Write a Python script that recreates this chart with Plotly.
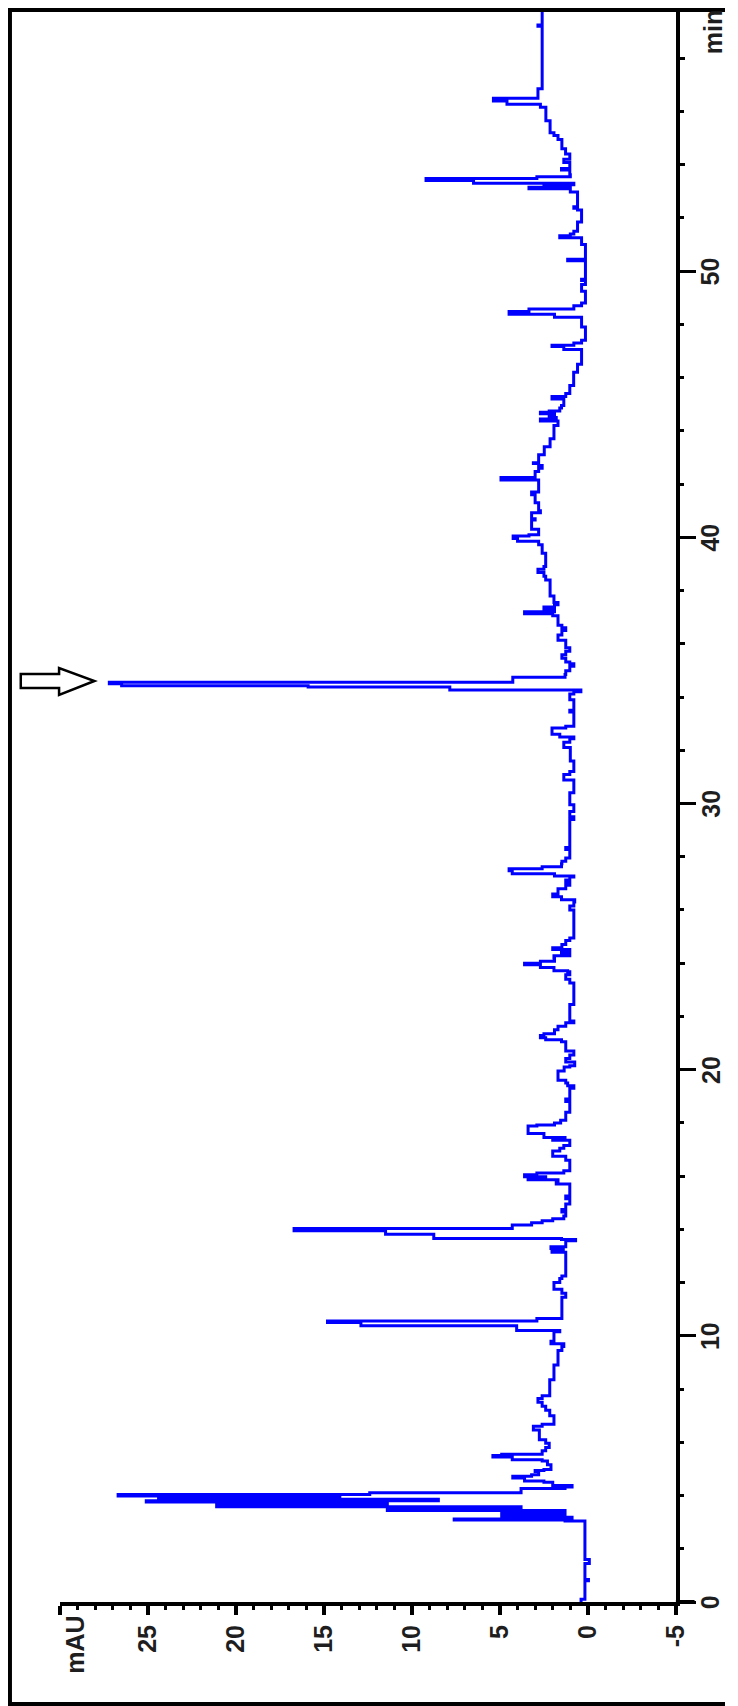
import plotly.graph_objects as go

# ---- data (time in min, absorbance in mAU) ----
time_min = [
    0.0, 0.1, 0.75, 0.8, 0.85, 1.4, 1.45, 1.6, 3.0, 3.04, 3.08, 3.12, 3.18, 3.22, 3.3, 3.36,
    3.44, 3.5, 3.58, 3.64, 3.7, 3.76, 3.8, 3.86, 3.9, 3.95, 3.98, 4.04, 4.1, 4.2, 4.26, 4.32,
    4.38, 4.5, 4.55, 4.66, 4.72, 4.78, 4.9, 4.94, 4.98, 5.16, 5.3, 5.34, 5.45, 5.5, 5.55, 5.68,
    5.8, 5.96, 6.1, 6.4, 6.46, 6.6, 6.68, 6.8, 7.0, 7.2, 7.35, 7.5, 7.65, 7.75, 8.3, 8.35,
    8.85, 8.9, 9.35, 9.45, 9.6, 9.7, 9.8, 10.1, 10.15, 10.2, 10.33, 10.38, 10.46, 10.5, 10.56, 10.65,
    11.35, 11.45, 11.6, 11.75, 11.9, 12.0, 12.15, 12.25, 13.1, 13.14, 13.22, 13.28, 13.35, 13.5, 13.57, 13.62,
    13.66, 13.78, 13.82, 13.9, 13.95, 14.0, 14.03, 14.12, 14.16, 14.25, 14.32, 14.4, 14.5, 14.65, 14.75, 14.95,
    15.15, 15.25, 15.6, 15.7, 15.8, 15.86, 15.92, 15.98, 16.05, 16.12, 16.2, 16.5, 16.6, 16.75, 16.85, 16.94,
    17.05, 17.15, 17.3, 17.35, 17.4, 17.45, 17.6, 17.8, 17.88, 17.92, 18.0, 18.1, 18.35, 18.4, 18.75, 18.8,
    18.9, 19.25, 19.3, 19.4, 19.5, 19.6, 19.85, 19.95, 20.1, 20.15, 20.29, 20.42, 20.55, 20.7, 20.96, 21.05,
    21.12, 21.2, 21.28, 21.35, 21.5, 21.63, 21.76, 21.83, 22.4, 22.45, 23.1, 23.26, 23.4, 23.57, 23.68, 23.72,
    23.84, 23.94, 24.0, 24.07, 24.2, 24.28, 24.38, 24.45, 24.51, 24.58, 24.7, 24.85, 24.95, 25.9, 26.0, 26.15,
    26.3, 26.38, 26.5, 26.6, 26.8, 26.93, 27.02, 27.13, 27.24, 27.28, 27.36, 27.47, 27.55, 27.62, 27.74, 27.83,
    27.95, 28.2, 28.27, 28.35, 29.35, 29.4, 29.5, 29.65, 29.7, 29.9, 29.95, 30.35, 30.4, 30.8, 30.88, 30.98,
    31.09, 31.2, 31.5, 31.6, 32.0, 32.1, 32.22, 32.3, 32.43, 32.5, 32.6, 32.78, 32.84, 32.9, 33.4, 33.44,
    33.5, 33.85, 33.9, 34.05, 34.11, 34.2, 34.26, 34.34, 34.38, 34.42, 34.5, 34.56, 34.7, 34.74, 34.85, 34.99,
    35.16, 35.25, 35.32, 35.46, 35.59, 35.72, 35.85, 36.0, 36.13, 36.33, 36.5, 36.6, 36.7, 37.0, 37.05, 37.13,
    37.2, 37.3, 37.38, 37.47, 37.55, 37.75, 37.8, 38.3, 38.4, 38.54, 38.68, 38.8, 38.9, 39.35, 39.4, 39.65,
    39.72, 39.85, 39.96, 40.05, 40.1, 40.25, 40.3, 40.6, 40.65, 40.7, 40.85, 40.92, 41.0, 41.2, 41.3, 41.55,
    41.6, 41.7, 42.05, 42.15, 42.25, 42.4, 42.47, 42.6, 42.7, 42.77, 42.8, 43.05, 43.1, 43.35, 43.4, 43.65,
    43.7, 44.15, 44.2, 44.3, 44.37, 44.45, 44.5, 44.58, 44.64, 44.7, 44.75, 44.86, 44.95, 45.1, 45.2, 45.29,
    45.4, 45.65, 45.7, 46.15, 46.2, 46.45, 46.5, 46.97, 47.06, 47.17, 47.22, 47.3, 47.4, 47.85, 47.9, 48.2,
    48.27, 48.38, 48.48, 48.58, 48.7, 48.8, 49.2, 49.25, 49.45, 49.5, 49.6, 49.65, 49.7, 50.3, 50.39, 50.45,
    50.95, 51.0, 51.15, 51.26, 51.33, 51.4, 51.5, 51.75, 51.85, 52.2, 52.3, 52.36, 52.42, 52.9, 52.97, 53.08,
    53.1, 53.15, 53.2, 53.25, 53.3, 53.41, 53.48, 53.55, 53.62, 53.75, 53.8, 53.86, 54.0, 54.08, 54.2, 54.28,
    54.4, 54.55, 54.6, 54.85, 54.95, 55.1, 55.2, 55.6, 55.65, 56.1, 56.16, 56.27, 56.39, 56.5, 56.8, 56.85,
    59.15, 59.2, 59.25, 60.0,
]
signal_mau = [
    0.39, 0.17, 0.17, -0.03, 0.17, 0.17, -0.08, 0.17, 0.17, 1.3, 7.6, 0.9, 4.9, 1.3, 4.9, 1.3,
    11.4, 3.8, 21.1, 11.4, 21.1, 25.1, 8.5, 14.1, 24.4, 14.1, 26.7, 12.4, 3.8, 3.8, 1.3, 0.9,
    2.0, 2.5, 3.6, 4.27, 3.2, 2.8, 3.0, 2.5, 2.1, 2.3, 2.6, 4.3, 5.4, 4.9, 2.6, 2.4,
    2.2, 2.4, 2.76, 2.76, 3.1, 2.6, 1.93, 1.93, 2.17, 2.4, 2.6, 2.84, 2.6, 2.17, 2.17, 1.93,
    1.93, 1.7, 1.7, 1.48, 1.37, 2.1, 1.93, 1.93, 1.6, 4.05, 4.05, 12.9, 12.9, 14.8, 2.9, 1.48,
    1.48, 1.26, 1.48, 1.93, 1.93, 1.6, 1.48, 1.26, 1.26, 2.04, 1.4, 2.1, 1.26, 1.26, 0.7, 1.5,
    8.76, 8.76, 11.5, 11.5, 16.7, 16.7, 4.3, 4.3, 3.2, 2.6, 2.0, 1.37, 1.26, 1.48, 1.26, 1.03,
    1.26, 1.03, 1.03, 1.8, 1.7, 3.4, 2.4, 3.6, 2.9, 1.37, 1.03, 1.03, 1.26, 2.0, 2.0, 1.6,
    1.37, 1.03, 1.03, 2.0, 1.3, 2.5, 3.4, 3.4, 2.9, 1.9, 1.55, 1.26, 1.26, 1.03, 1.03, 1.26,
    1.03, 1.03, 0.8, 1.15, 1.26, 1.7, 1.7, 1.35, 1.03, 0.75, 1.26, 1.03, 0.8, 1.26, 1.26, 1.5,
    2.4, 2.7, 2.5, 1.9, 1.7, 1.26, 0.8, 1.03, 1.03, 0.8, 0.8, 1.03, 1.26, 1.03, 1.15, 1.93,
    2.7, 3.6, 2.7, 1.9, 1.93, 1.03, 1.5, 1.03, 2.0, 1.48, 1.26, 1.03, 0.8, 0.8, 1.03, 0.8,
    0.75, 1.5, 2.0, 1.7, 1.26, 1.03, 1.26, 1.03, 0.8, 1.9, 4.3, 4.48, 2.6, 1.5, 1.48, 1.26,
    1.03, 1.03, 1.26, 1.03, 1.03, 0.8, 1.03, 1.03, 0.8, 0.8, 1.03, 1.03, 0.8, 0.8, 1.37, 1.37,
    1.03, 0.8, 0.8, 1.0, 1.0, 1.37, 1.37, 1.03, 0.8, 1.6, 2.04, 2.04, 1.26, 0.8, 0.8, 1.03,
    0.8, 0.8, 1.03, 1.03, 0.8, 0.4, 7.85, 7.85, 15.9, 26.5, 27.2, 4.27, 4.27, 1.3, 1.26, 1.03,
    0.8, 1.03, 1.26, 1.48, 1.26, 1.03, 1.26, 1.26, 1.7, 1.48, 1.26, 1.48, 1.7, 1.7, 2.0, 3.6,
    1.9, 2.5, 1.9, 1.7, 1.93, 1.93, 2.15, 2.15, 2.4, 2.5, 2.84, 2.5, 2.4, 2.4, 2.6, 2.6,
    2.8, 4.0, 4.25, 3.35, 2.8, 2.8, 3.2, 3.2, 3.0, 3.2, 3.2, 2.7, 2.8, 2.8, 3.0, 3.0,
    3.2, 2.8, 2.8, 4.94, 3.0, 3.0, 2.8, 2.6, 2.8, 3.1, 2.8, 2.8, 2.48, 2.48, 2.15, 2.15,
    1.93, 1.93, 1.7, 1.7, 2.7, 1.8, 2.2, 1.9, 2.7, 2.2, 1.6, 1.5, 1.37, 1.37, 2.04, 1.26,
    1.03, 1.03, 0.81, 0.81, 0.59, 0.59, 0.36, 0.36, 1.37, 2.04, 0.8, 0.36, 0.14, 0.14, 0.36, 0.36,
    1.9, 4.48, 3.35, 0.8, 0.36, 0.14, 0.14, 0.36, 0.36, 0.14, 0.14, 0.36, 0.14, 0.14, 1.15, 0.14,
    0.14, 0.36, 0.36, 1.6, 1.0, 0.8, 0.59, 0.59, 0.36, 0.36, 0.59, 0.8, 0.59, 0.59, 1.0, 1.0,
    3.35, 1.0, 2.5, 0.8, 6.5, 9.2, 2.9, 1.0, 1.03, 1.03, 1.5, 1.03, 1.03, 1.37, 1.03, 1.03,
    1.27, 1.27, 1.48, 1.48, 1.7, 1.93, 2.15, 2.15, 2.39, 2.39, 2.7, 4.6, 5.37, 2.84, 2.84, 2.6,
    2.6, 2.84, 2.6, 2.6,
]

# ---- axis ticks ----
time_major = [0, 10, 20, 30, 40, 50]
time_major_text = ["0", "10", "20", "30", "40", "50"]
time_medium = [12, 16, 24, 28, 32, 36, 54, 58]
mau_major = [30, 25, 20, 15, 10, 5, 0, -5]
mau_major_text = ["", "25", "20", "15", "10", "5", "0", "-5"]

# the page body has an 8 px default margin, so the figure is made 8 px smaller
# and every window-pixel position is shifted by that offset
OFF = 8
FW, FH = 738 - OFF, 1706 - OFF


def px(x):
    return (x - OFF) / FW


def py(y):
    return 1 - (y - OFF) / FH


FONT = dict(family="Liberation Sans Narrow, Liberation Sans", size=25,
            color="#1e1e1e", weight="bold")

fig = go.Figure()
fig.add_trace(go.Scatter(
    x=signal_mau, y=time_min, mode="lines",
    line=dict(color="#0000FF", width=3, shape="vh"),
    hoverinfo="skip", showlegend=False,
))
fig.add_trace(go.Scatter(x=[], y=[], yaxis="y2", showlegend=False, hoverinfo="skip"))

# time axis: 0 min at window y=1601, 26.6 px per min; top of axis clipped at figure top
t_top = (1601 - OFF) / 26.6

fig.update_layout(
    width=FW, height=FH, autosize=False,
    margin=dict(l=0, r=0, t=0, b=0),
    paper_bgcolor="white", plot_bgcolor="white",
    font=FONT,
    xaxis=dict(
        domain=[px(61), px(688)], range=[30, -5], anchor="y",
        tickmode="array", tickvals=mau_major, ticktext=mau_major_text,
        ticks="outside", ticklen=9, tickwidth=4, tickcolor="black",
        showline=True, linewidth=4, linecolor="black",
        showgrid=False, zeroline=False, tickangle=-90, tickfont=FONT,
        minor=dict(ticks="outside", dtick=1, tick0=0, ticklen=4, tickwidth=3,
                   tickcolor="black", showgrid=False),
    ),
    yaxis=dict(
        domain=[py(1602), 1.0], range=[0, t_top], anchor="x", side="right",
        tickmode="array", tickvals=time_major, showticklabels=False,
        ticks="outside", ticklen=16, tickwidth=3, tickcolor="black",
        showline=True, linewidth=4, linecolor="black",
        showgrid=False, zeroline=False,
        minor=dict(ticks="outside", dtick=2, tick0=0, ticklen=4, tickwidth=3,
                   tickcolor="black", showgrid=False),
    ),
    yaxis2=dict(
        overlaying="y", anchor="x", side="right", range=[0, t_top],
        tickmode="array", tickvals=time_medium, showticklabels=False,
        ticks="outside", ticklen=8, tickwidth=3, tickcolor="black",
        showline=False, showgrid=False, zeroline=False,
    ),
)

# time-axis tick labels, placed on the time scale to the right of the axis
for tv, tt in zip(time_major, time_major_text):
    fig.add_annotation(text=tt, xref="paper", yref="y", x=px(723), y=tv,
                       xanchor="center", yanchor="middle", textangle=-90,
                       showarrow=False, font=FONT)

line_k = dict(color="black", width=4)
fig.add_shape(type="line", xref="paper", yref="paper",
              x0=px(10), x1=px(10), y0=1.0, y1=py(1710), line=line_k)
fig.add_shape(type="line", xref="paper", yref="paper",
              x0=px(8), x1=1.0, y0=py(10), y1=py(10), line=line_k)
fig.add_shape(type="line", xref="paper", yref="paper",
              x0=px(8), x1=1.0, y0=py(1704), y1=py(1704), line=line_k)
fig.add_shape(type="line", xref="paper", yref="paper",
              x0=px(688), x1=px(707), y0=py(1602), y1=py(1602), line=line_k)

# open block arrow pointing at the main peak
pts = [(21, 674), (60, 674), (60, 668), (96, 681), (60, 695), (60, 688), (21, 688)]
path = "M " + " L ".join(f"{px(a):.5f},{py(b):.5f}" for a, b in pts) + " Z"
fig.add_shape(type="path", xref="paper", yref="paper", path=path,
              line=dict(color="black", width=2.5), fillcolor="white")

fig.add_annotation(text="mAU", xref="paper", yref="paper", x=px(76), y=py(1614),
                   xanchor="center", yanchor="top", textangle=-90, showarrow=False, font=FONT)
fig.add_annotation(text="min", xref="paper", yref="paper", x=px(726), y=1.0,
                   xanchor="center", yanchor="top", textangle=-90, showarrow=False, font=FONT)

fig.write_html("out.html")
